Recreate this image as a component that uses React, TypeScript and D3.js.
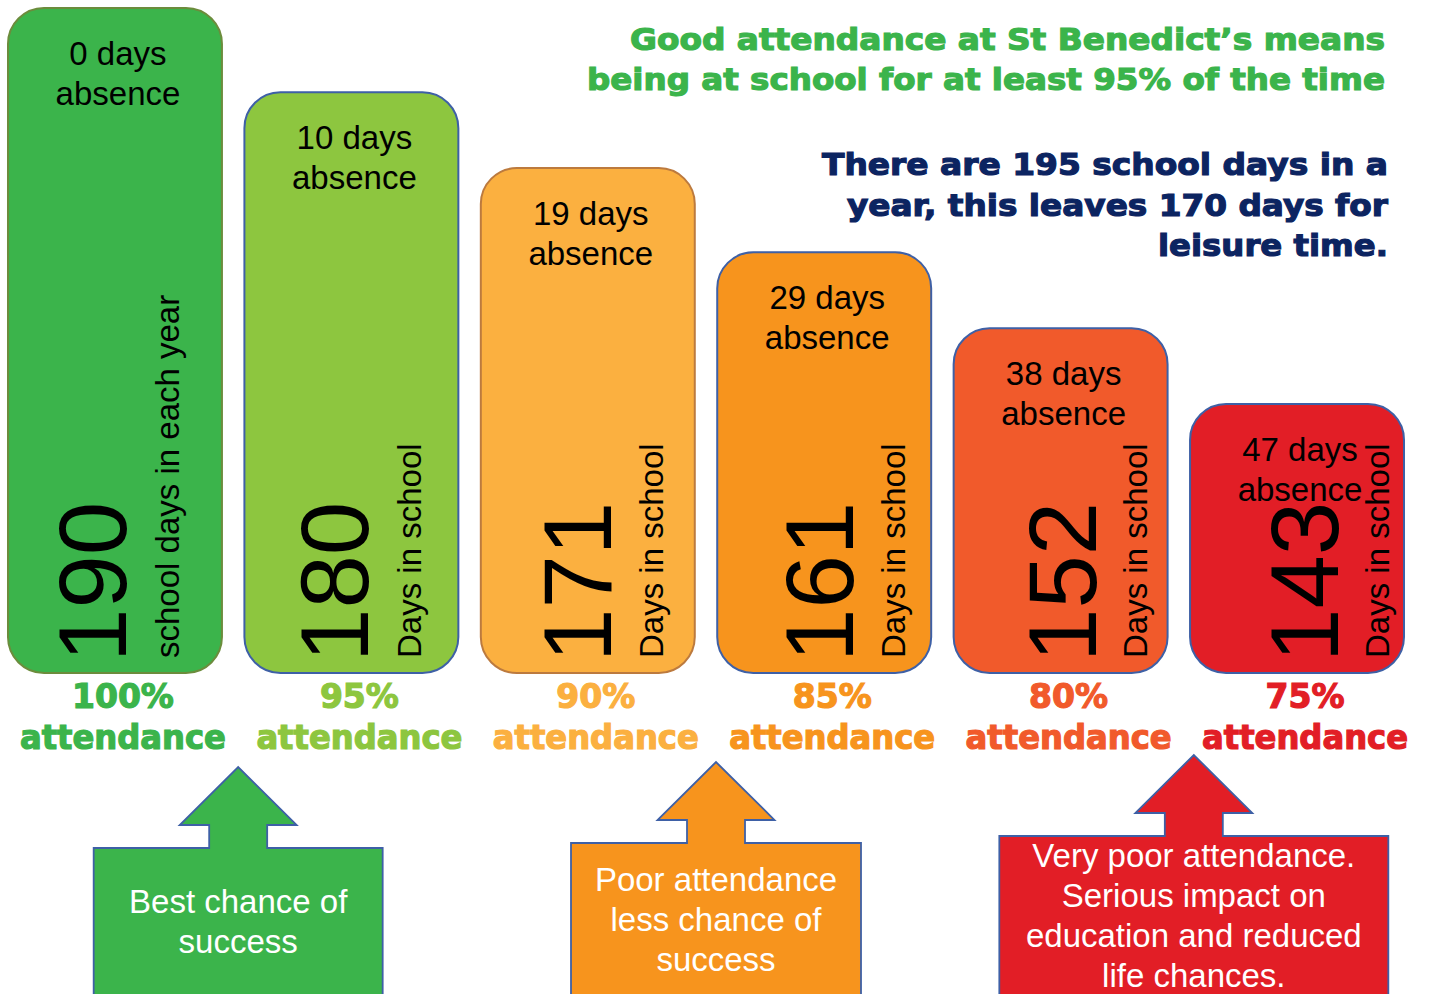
import React from 'react';
import * as d3 from 'd3';

// values
const absenceDays = [0, 10, 19, 29, 38, 47];
const schoolDays = [190, 180, 171, 161, 152, 143];
const attendance = ['100%', '95%', '90%', '85%', '80%', '75%'];
const sideLabels = [
  'school days in each year',
  'Days in school',
  'Days in school',
  'Days in school',
  'Days in school',
  'Days in school',
];
const headlineGreen = [
  'Good attendance at St Benedict\u2019s means',
  'being at school for at least 95% of the time',
];
const headlineNavy = [
  'There are 195 school days in a',
  'year, this leaves 170 days for',
  'leisure time.',
];
const calloutLines = [
  ['Best chance of', 'success'],
  ['Poor attendance', 'less chance of', 'success'],
  ['Very poor attendance.', 'Serious impact on', 'education and reduced', 'life chances.'],
];
const calloutBars = [
  [0, 1],
  [2, 3],
  [4, 5],
];

// styles
const fills = ['#3BB44B', '#8DC63F', '#FBB040', '#F7941D', '#F15A2B', '#E21E26'];
const strokes = ['#6C8C3C', '#3E60A6', '#BC7A3E', '#3E60A6', '#3E60A6', '#3E60A6'];
const calloutFill = ['#3BB44B', '#F7941D', '#E21E26'];
const calloutWidth = [289, 290, 389];
const calloutTop = [848, 843, 836];

const W = 1445;
const H = 994;
const baseY = 673;
const body = '"Liberation Sans", Arial, sans-serif';
const heavy = '"DejaVu Sans", sans-serif';

const x = d3
  .scaleBand<number>()
  .domain(d3.range(schoolDays.length))
  .range([8, 1404])
  .paddingInner(0.095);

const y = d3
  .scaleLinear()
  .domain(d3.extent(schoolDays) as [number, number])
  .range([404, 8]);

const greenWidths = [755, 798];
const navyWidths = [566, 541, 230];

function calloutPath(cx: number, w: number, top: number) {
  const stemW = 58;
  const stemH = 23;
  const headW = 117;
  const headH = 58;
  const x1 = cx - w / 2;
  const x2 = cx + w / 2;
  const hb = top - stemH;
  const p = d3.path();
  p.moveTo(x1, H + 10);
  p.lineTo(x1, top);
  p.lineTo(cx - stemW / 2, top);
  p.lineTo(cx - stemW / 2, hb);
  p.lineTo(cx - headW / 2, hb);
  p.lineTo(cx, hb - headH);
  p.lineTo(cx + headW / 2, hb);
  p.lineTo(cx + stemW / 2, hb);
  p.lineTo(cx + stemW / 2, top);
  p.lineTo(x2, top);
  p.lineTo(x2, H + 10);
  p.closePath();
  return p.toString();
}

export default function App() {
  const bw = x.bandwidth();
  return (
    <svg
      width={W}
      height={H}
      style={{ position: 'absolute', left: 0, top: 0, background: '#fff' }}
    >
      {/* headlines */}
      {headlineGreen.map((t, i) => (
        <text
          key={'g' + i}
          x={1385}
          y={50 + i * 40}
          textAnchor="end"
          fontFamily={heavy}
          fontWeight="bold"
          fontSize={31}
          fill="#3BB44B"
          stroke="#3BB44B"
          strokeWidth={1.2}
          textLength={greenWidths[i]}
          lengthAdjust="spacingAndGlyphs"
        >
          {t}
        </text>
      ))}
      {headlineNavy.map((t, i) => (
        <text
          key={'n' + i}
          x={1388}
          y={175 + i * 40.5}
          textAnchor="end"
          fontFamily={heavy}
          fontWeight="bold"
          fontSize={31}
          fill="#0C2461"
          stroke="#0C2461"
          strokeWidth={1.2}
          textLength={navyWidths[i]}
          lengthAdjust="spacingAndGlyphs"
        >
          {t}
        </text>
      ))}

      {/* bars */}
      {schoolDays.map((v, i) => {
        const x0 = x(i) as number;
        const top = y(v);
        const cx = x0 + bw / 2;
        const numX = x0 + 118 + 6 * i;
        const labX = x0 + 171 + 5.5 * i;
        return (
          <g key={i}>
            <rect
              x={x0}
              y={top}
              width={bw}
              height={baseY - top}
              rx={36}
              ry={36}
              fill={fills[i]}
              stroke={strokes[i]}
              strokeWidth={2}
            />
            <text
              x={cx + 3}
              y={top + 57}
              textAnchor="middle"
              fontFamily={body}
              fontSize={33}
              fill="#000"
            >
              {absenceDays[i]} days
            </text>
            <text
              x={cx + 3}
              y={top + 97}
              textAnchor="middle"
              fontFamily={body}
              fontSize={33}
              fill="#000"
            >
              absence
            </text>
            <text
              transform={`translate(${numX},${662}) rotate(-90)`}
              fontFamily={body}
              fontSize={96}
              fill="#000"
            >
              {v}
            </text>
            <text
              transform={`translate(${labX},${658}) rotate(-90)`}
              fontFamily={body}
              fontSize={33}
              fill="#000"
            >
              {sideLabels[i]}
            </text>
            <text
              x={cx + 8}
              y={708}
              textAnchor="middle"
              fontFamily={heavy}
              fontWeight="bold"
              fontSize={33}
              fill={fills[i]}
              stroke={fills[i]}
              strokeWidth={1.2}
            >
              {attendance[i]}
            </text>
            <text
              x={cx + 8}
              y={749}
              textAnchor="middle"
              fontFamily={heavy}
              fontWeight="bold"
              fontSize={33}
              fill={fills[i]}
              stroke={fills[i]}
              strokeWidth={1.2}
              textLength={206}
              lengthAdjust="spacingAndGlyphs"
            >
              attendance
            </text>
          </g>
        );
      })}

      {/* callouts */}
      {calloutLines.map((lines, k) => {
        const [a, b] = calloutBars[k];
        const cx = ((x(a) as number) + (x(b) as number) + bw) / 2 + 5 + 5 * k;
        const top = calloutTop[k];
        const n = lines.length;
        const first = (top + H) / 2 + 12 - (n - 1) * 20;
        return (
          <g key={'c' + k}>
            <path
              d={calloutPath(cx, calloutWidth[k], top)}
              fill={calloutFill[k]}
              stroke="#3E60A6"
              strokeWidth={1.8}
            />
            {lines.map((t, j) => (
              <text
                key={j}
                x={cx}
                y={first + j * 40}
                textAnchor="middle"
                fontFamily={body}
                fontSize={33}
                fill="#fff"
              >
                {t}
              </text>
            ))}
          </g>
        );
      })}
    </svg>
  );
}
